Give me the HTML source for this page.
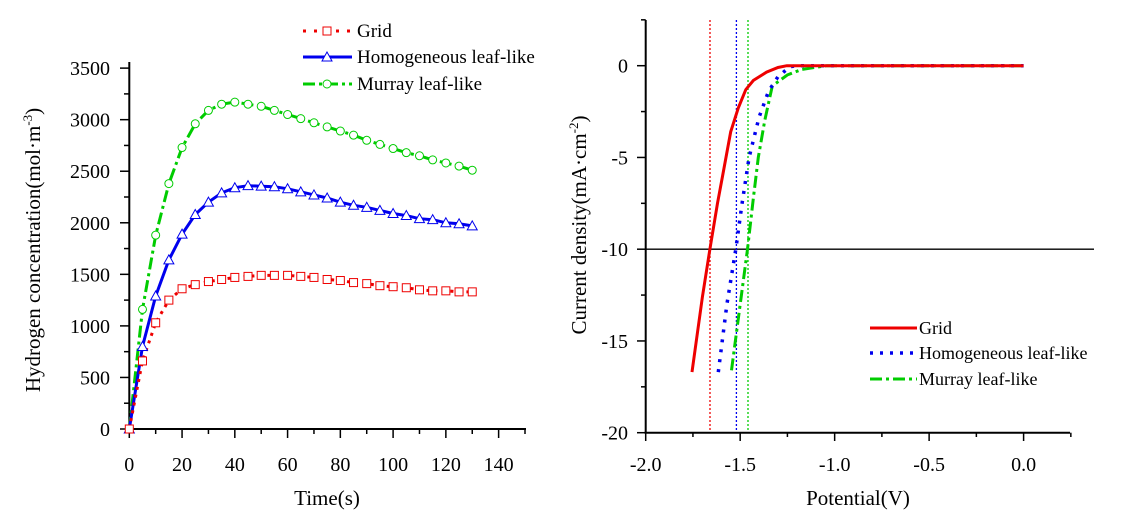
<!DOCTYPE html>
<html><head><meta charset="utf-8"><style>
html,body{margin:0;padding:0;background:#fff;width:1147px;height:522px;overflow:hidden}
svg text{font-family:"Liberation Serif",serif;fill:#000}
</style></head><body>
<svg id="s" width="1147" height="522" xmlns="http://www.w3.org/2000/svg"></svg>
<script>
const S=document.getElementById('s');let h='';
// Left chart
const lx=t=>129.3+t*2.638, ly=v=>429-v*0.10311;
h+=`<line x1="129.3" y1="62" x2="129.3" y2="429" stroke="#000" stroke-width="2"/>`;
h+=`<line x1="128" y1="429" x2="526" y2="429" stroke="#000" stroke-width="2"/>`;
for(let v=0;v<=3500;v+=250){const y=ly(v);h+=`<line x1="${v%500?124:120}" y1="${y}" x2="129.3" y2="${y}" stroke="#000" stroke-width="1.5"/>`;if(v%500==0)h+=`<text x="110" y="${y+7}" font-size="20" text-anchor="end">${v}</text>`;}
for(let t=0;t<=150;t+=10){const x=lx(t);h+=`<line x1="${x}" y1="429" x2="${x}" y2="${t%20?434:438}" stroke="#000" stroke-width="1.5"/>`;if(t%20==0)h+=`<text x="${x}" y="471" font-size="20" text-anchor="middle">${t}</text>`;}
h+=`<text transform="translate(40,250) rotate(-90)" font-size="21" text-anchor="middle">Hydrogen concentration(mol·m<tspan font-size="13" dy="-8">-3</tspan><tspan dy="8">)</tspan></text>`;
h+=`<text x="327" y="505" font-size="21" text-anchor="middle">Time(s)</text>`;
const G=[0,1160,1880,2380,2730,2960,3090,3150,3170,3150,3130,3090,3050,3010,2970,2930,2890,2850,2800,2760,2720,2680,2650,2610,2580,2550,2510];
const B=[0,800,1290,1640,1890,2080,2200,2290,2340,2360,2355,2350,2330,2300,2270,2240,2200,2170,2150,2120,2090,2070,2040,2030,2000,1990,1970];
const R=[0,660,1030,1250,1360,1400,1430,1450,1470,1480,1490,1490,1490,1480,1470,1450,1440,1420,1410,1390,1380,1370,1350,1340,1340,1330,1330];
function pts(a){return a.map((v,i)=>lx(i*5).toFixed(1)+','+ly(v).toFixed(1)).join(' ')}
h+=`<polyline points="${pts(G)}" fill="none" stroke="#00cc00" stroke-width="3" stroke-dasharray="12,4,3,4"/>`;
h+=`<polyline points="${pts(B)}" fill="none" stroke="#0000ee" stroke-width="3"/>`;
h+=`<polyline points="${pts(R)}" fill="none" stroke="#ee0000" stroke-width="3" stroke-dasharray="3,5"/>`;
G.forEach((v,i)=>h+=`<circle cx="${lx(i*5)}" cy="${ly(v)}" r="4" fill="#fff" stroke="#00cc00" stroke-width="1"/>`);
B.forEach((v,i)=>{const x=lx(i*5),y=ly(v);h+=`<polygon points="${x},${y-5} ${x-5},${y+4} ${x+5},${y+4}" fill="#fff" stroke="#0000ee" stroke-width="1"/>`});
R.forEach((v,i)=>h+=`<rect x="${lx(i*5)-4}" y="${ly(v)-4}" width="8" height="8" fill="#fff" stroke="#ee0000" stroke-width="1"/>`);
// legend left
h+=`<line x1="303" y1="31" x2="352" y2="31" stroke="#ee0000" stroke-width="3" stroke-dasharray="3,8"/><rect x="323" y="27" width="8" height="8" fill="#fff" stroke="#ee0000"/>`;
h+=`<line x1="303" y1="57" x2="352" y2="57" stroke="#0000ee" stroke-width="3"/><polygon points="327,52 322,61 332,61" fill="#fff" stroke="#0000ee"/>`;
h+=`<line x1="303" y1="84" x2="352" y2="84" stroke="#00cc00" stroke-width="3" stroke-dasharray="12,4,3,4"/><circle cx="327" cy="84" r="4" fill="#fff" stroke="#00cc00"/>`;
h+=`<text x="357" y="37" font-size="19">Grid</text><text x="357" y="63" font-size="19">Homogeneous leaf-like</text><text x="357" y="90" font-size="19">Murray leaf-like</text>`;
// Right chart
const rx=v=>1023.6+v*188.95, ry=j=>65.7-j*18.35;
h+=`<line x1="645.7" y1="20" x2="645.7" y2="433" stroke="#000" stroke-width="2"/>`;
h+=`<line x1="644.5" y1="432.7" x2="1070" y2="432.7" stroke="#000" stroke-width="2"/>`;
for(let j=2.5;j>=-20;j-=2.5){const y=ry(j);h+=`<line x1="${j%5?641:637}" y1="${y}" x2="645.7" y2="${y}" stroke="#000" stroke-width="1.5"/>`;if(j%5==0)h+=`<text x="628" y="${y+7}" font-size="20" text-anchor="end">${j}</text>`;}
for(let v=-2;v<=0.25001;v+=0.25){const x=rx(v);h+=`<line x1="${x}" y1="432.7" x2="${x}" y2="${Math.abs(v*2-Math.round(v*2))>0.01?437:441}" stroke="#000" stroke-width="1.5"/>`;if(Math.abs(v*2-Math.round(v*2))<0.01&&v<0.1)h+=`<text x="${x}" y="471" font-size="20" text-anchor="middle">${v.toFixed(1)}</text>`;}
h+=`<line x1="645.7" y1="${ry(-10)}" x2="1094" y2="${ry(-10)}" stroke="#000" stroke-width="1.3"/>`;
[[710,'#ee0000'],[736.4,'#0000ee'],[748,'#00cc00']].forEach(([x,c])=>h+=`<line x1="${x}" y1="20" x2="${x}" y2="432" stroke="${c}" stroke-width="1.3" stroke-dasharray="2,2"/>`);
function p2(a){return a.map(p=>rx(p[0]).toFixed(1)+','+ry(p[1]).toFixed(1)).join(' ')}
h+=`<polyline points="${p2([[-1.546,-16.6],[-1.5,-13],[-1.461,-10],[-1.43,-7.2],[-1.404,-5],[-1.37,-3],[-1.33,-1.1],[-1.25,-0.5],[-1.174,-0.2],[-1.042,0],[0,0]])}" fill="none" stroke="#00cc00" stroke-width="3" stroke-dasharray="12,4,3,4"/>`;
h+=`<polyline points="${p2([[-1.616,-16.7],[-1.57,-13],[-1.523,-10],[-1.49,-7.5],[-1.453,-5],[-1.40,-2.8],[-1.35,-1.4],[-1.30,-0.6],[-1.236,-0.05],[-1.2,0],[0,0]])}" fill="none" stroke="#0000ee" stroke-width="3.5" stroke-dasharray="3,7"/>`;
h+=`<polyline points="${p2([[-1.755,-16.7],[-1.70,-12.6],[-1.66,-10],[-1.62,-7.5],[-1.593,-6],[-1.55,-3.6],[-1.51,-2.3],[-1.47,-1.3],[-1.43,-0.8],[-1.36,-0.35],[-1.30,-0.1],[-1.253,0],[0,0]])}" fill="none" stroke="#ee0000" stroke-width="3"/>`;
h+=`<text transform="translate(586,225) rotate(-90)" font-size="21" text-anchor="middle">Current density(mA·cm<tspan font-size="13" dy="-8">-2</tspan><tspan dy="8">)</tspan></text>`;
h+=`<text x="858" y="505" font-size="21" text-anchor="middle">Potential(V)</text>`;
h+=`<line x1="870" y1="328" x2="917" y2="328" stroke="#ee0000" stroke-width="3"/>`;
h+=`<line x1="870" y1="353" x2="917" y2="353" stroke="#0000ee" stroke-width="3.5" stroke-dasharray="3,7"/>`;
h+=`<line x1="870" y1="379" x2="917" y2="379" stroke="#00cc00" stroke-width="3" stroke-dasharray="12,4,3,4"/>`;
h+=`<text x="919" y="334" font-size="18">Grid</text><text x="919" y="359" font-size="18">Homogeneous leaf-like</text><text x="919" y="385" font-size="18">Murray leaf-like</text>`;
S.innerHTML=h;
</script>
</body></html>
